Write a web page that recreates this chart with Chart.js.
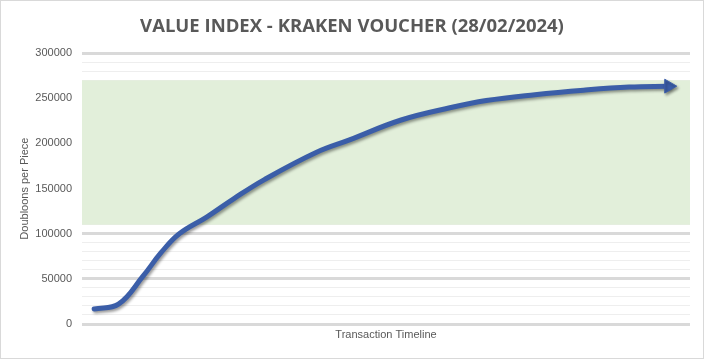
<!DOCTYPE html>
<html>
<head>
<meta charset="utf-8">
<script src="https://cdn.jsdelivr.net/npm/chart.js@4"></script>
<style>
  html, body { margin: 0; padding: 0; background: #fff; }
  #wrap { width: 704px; height: 359px; position: relative; }
</style>
</head>
<body>
<div id="wrap"><canvas id="valueChart" width="704" height="359"></canvas></div>
<script>
// Value index readings along the transaction timeline
const timeline = [2, 6, 10, 13, 16, 20.5, 25, 30, 38.5, 44, 52.5, 60.5, 66.5, 74.5, 82.5, 90, 96.5];
const doubloons = [16600, 22000, 52700, 79000, 100000, 118500, 139000, 160000, 190000, 204000, 226000, 239500, 247500, 254000, 259000, 262500, 263500];

// Shaded target range
const bandLow = 110000;
const bandHigh = 270000;

const yTicksMajor = 50000;
const yTicksMinor = 10000;

const lineColor = '#3b5ea8';
const textColor = '#595959';

// Light gray frame round the whole chart
const framePlugin = {
  id: 'frame',
  afterDraw(chart) {
    const ctx = chart.ctx;
    ctx.save();
    ctx.strokeStyle = '#d9d9d9';
    ctx.lineWidth = 1;
    ctx.strokeRect(0.5, 0.5, chart.width - 1, chart.height - 1);
    ctx.restore();
  }
};

// Green range band, drawn over the grid but under the line
const bandPlugin = {
  id: 'band',
  beforeDatasetsDraw(chart) {
    const { ctx, chartArea, scales } = chart;
    const top = scales.y.getPixelForValue(bandHigh);
    const bottom = scales.y.getPixelForValue(bandLow);
    ctx.save();
    ctx.fillStyle = '#e2efda';
    ctx.fillRect(chartArea.left, top, chartArea.right - chartArea.left, bottom - top);
    ctx.restore();
  }
};

// Soft drop shadow under the line
const shadowPlugin = {
  id: 'lineShadow',
  beforeDatasetDraw(chart) {
    const ctx = chart.ctx;
    ctx.save();
    ctx.shadowColor = 'rgba(0,0,0,0.4)';
    ctx.shadowBlur = 3;
    ctx.shadowOffsetX = 1.5;
    ctx.shadowOffsetY = 2;
  },
  afterDatasetDraw(chart) {
    chart.ctx.restore();
  }
};

const points = timeline.map((t, i) => ({ x: t, y: doubloons[i] }));
const lastIdx = points.length - 1;

new Chart(document.getElementById('valueChart'), {
  type: 'line',
  data: {
    datasets: [{
      label: 'Doubloons per Piece',
      data: points,
      borderColor: lineColor,
      backgroundColor: lineColor,
      borderWidth: 5,
      borderCapStyle: 'round',
      tension: 0.4,
      pointRadius: points.map((p, i) => i === lastIdx ? 8 : 0),
      pointStyle: 'triangle',
      rotation: 90,
      pointBorderWidth: 1,
      pointBorderColor: lineColor,
      pointBackgroundColor: lineColor
    }]
  },
  options: {
    responsive: false,
    animation: false,
    layout: { padding: { left: 14, right: 14, top: 0, bottom: 0 } },
    plugins: {
      legend: { display: false },
      tooltip: { enabled: false },
      title: {
        display: true,
        text: 'VALUE INDEX - KRAKEN VOUCHER (28/02/2024)',
        color: textColor,
        font: { family: 'Open Sans', size: 18.5, weight: 'bold' },
        padding: { top: 16, bottom: 15 }
      }
    },
    scales: {
      x: {
        type: 'linear',
        min: 0,
        max: 100,
        grid: { display: false },
        border: { display: false },
        ticks: { display: false },
        title: {
          display: true,
          text: 'Transaction Timeline',
          color: textColor,
          font: { family: 'Liberation Sans', size: 11 },
          padding: { top: 0, bottom: 17 }
        },
        afterFit(scale) { scale.height = 35; }
      },
      y: {
        min: 0,
        max: 300000,
        border: { display: false },
        ticks: {
          stepSize: yTicksMinor,
          autoSkip: false,
          padding: 10,
          color: textColor,
          font: { family: 'Liberation Sans', size: 11 },
          callback: (v) => v % yTicksMajor === 0 ? String(v) : ''
        },
        grid: {
          drawTicks: false,
          color: (c) => c.tick && c.tick.value % yTicksMajor === 0 ? '#d9d9d9' : '#eeeeee',
          lineWidth: (c) => c.tick && c.tick.value % yTicksMajor === 0 ? 3 : 1
        },
        title: {
          display: true,
          text: 'Doubloons per Piece',
          color: textColor,
          font: { family: 'Liberation Sans', size: 11 },
          padding: { top: 4, bottom: 0 }
        },
        afterFit(scale) { scale.width = 68; }
      }
    }
  },
  plugins: [framePlugin, bandPlugin, shadowPlugin]
});
</script>
</body>
</html>
